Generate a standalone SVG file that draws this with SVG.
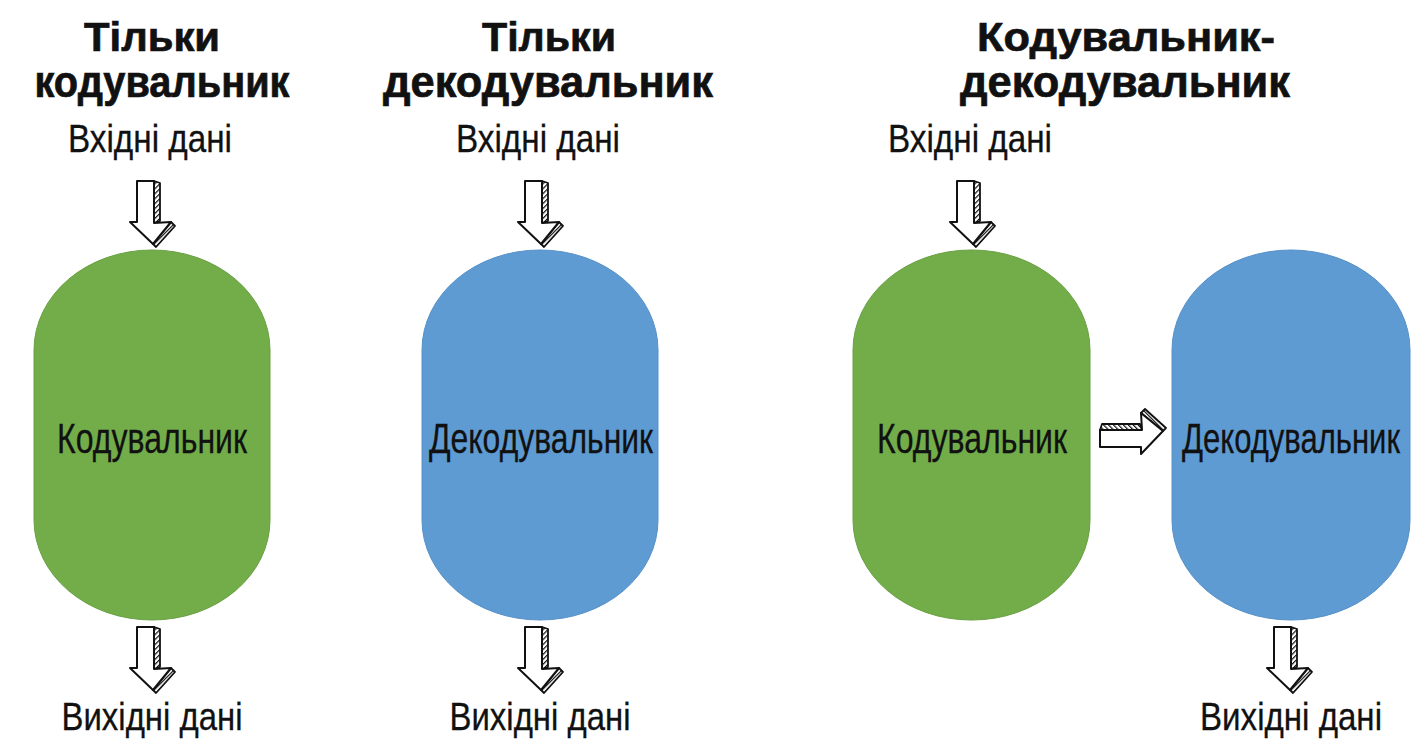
<svg xmlns="http://www.w3.org/2000/svg" width="1423" height="752" viewBox="0 0 1423 752">
<style>
.title{font-family:"Liberation Sans",Arial,sans-serif;font-weight:bold;font-size:41px;fill:#111;stroke:#111;stroke-width:0.7;text-anchor:middle}
.title2{font-size:44px}
.lbl{font-family:"Liberation Sans",Arial,sans-serif;font-size:39px;fill:#111;stroke:#111;stroke-width:0.3;text-anchor:middle}
.node-lbl{font-family:"Liberation Sans",Arial,sans-serif;font-size:42px;fill:#111;stroke:#111;stroke-width:0.3;text-anchor:middle}
.green{fill:#72AD4A;stroke:#68A042;stroke-width:1}
.blue{fill:#5E9BD3;stroke:#5690C8;stroke-width:1}
.af{fill:#fff;stroke:#111;stroke-width:2;stroke-linejoin:round}
.as{fill:url(#hatch);stroke:#111;stroke-width:1.8;stroke-linejoin:round}
</style>
<defs>
<pattern id="hatch" width="3.5" height="3.5" patternUnits="userSpaceOnUse" patternTransform="rotate(45)">
<rect width="3.5" height="3.5" fill="#fff"/>
<line x1="0" y1="0" x2="0" y2="3.5" stroke="#111" stroke-width="2.4"/>
</pattern>
<g id="darrow">
<path class="as" d="M17,0 L23,2 L23,40 L17,42 Z"/>
<path class="as" d="M34,41 L38,45 L19,66 L16,63 Z"/>
<path class="af" d="M0,0 L17,0 L17,42 L34,41 L16,63 L-7,41 L0,41 Z"/>
</g>
</defs>
<rect width="1423" height="752" fill="#fff"/>

<g id="title-encoder">
<text class="title" x="152" y="51" textLength="136" lengthAdjust="spacingAndGlyphs">Тільки</text>
<text class="title title2" x="162" y="97" textLength="255" lengthAdjust="spacingAndGlyphs">кодувальник</text>
</g>
<g id="title-decoder">
<text class="title" x="549" y="51" textLength="134" lengthAdjust="spacingAndGlyphs">Тільки</text>
<text class="title title2" x="548" y="97" textLength="330" lengthAdjust="spacingAndGlyphs">декодувальник</text>
</g>
<g id="title-encdec">
<text class="title" x="1126" y="51" textLength="298" lengthAdjust="spacingAndGlyphs">Кодувальник-</text>
<text class="title title2" x="1125" y="97" textLength="330" lengthAdjust="spacingAndGlyphs">декодувальник</text>
</g>

<g id="input1"><text class="lbl" x="150" y="152" textLength="164" lengthAdjust="spacingAndGlyphs">Вхідні дані</text></g>
<g id="input2"><text class="lbl" x="538" y="152" textLength="164" lengthAdjust="spacingAndGlyphs">Вхідні дані</text></g>
<g id="input3"><text class="lbl" x="970" y="152" textLength="164" lengthAdjust="spacingAndGlyphs">Вхідні дані</text></g>

<g id="encoder1">
<rect class="green" x="34" y="250" width="236" height="370" rx="118" ry="100"/>
<text class="node-lbl" x="152" y="453" textLength="190" lengthAdjust="spacingAndGlyphs">Кодувальник</text>
</g>
<g id="decoder1">
<rect class="blue" x="422" y="250" width="236" height="370" rx="118" ry="100"/>
<text class="node-lbl" x="541" y="453" textLength="224" lengthAdjust="spacingAndGlyphs">Декодувальник</text>
</g>
<g id="encoder2">
<rect class="green" x="853" y="250" width="237" height="370" rx="118" ry="100"/>
<text class="node-lbl" x="972" y="453" textLength="190" lengthAdjust="spacingAndGlyphs">Кодувальник</text>
</g>
<g id="decoder2">
<rect class="blue" x="1172" y="250" width="238" height="370" rx="119" ry="100"/>
<text class="node-lbl" x="1291" y="453" textLength="218" lengthAdjust="spacingAndGlyphs">Декодувальник</text>
</g>

<g id="output1"><text class="lbl" x="152" y="730" textLength="181" lengthAdjust="spacingAndGlyphs">Вихідні дані</text></g>
<g id="output2"><text class="lbl" x="540" y="730" textLength="181" lengthAdjust="spacingAndGlyphs">Вихідні дані</text></g>
<g id="output3"><text class="lbl" x="1291" y="730" textLength="182" lengthAdjust="spacingAndGlyphs">Вихідні дані</text></g>

<g id="connectors">
<use href="#darrow" transform="translate(137,181)"/>
<use href="#darrow" transform="translate(525,181)"/>
<use href="#darrow" transform="translate(957,181)"/>
<use href="#darrow" transform="translate(137,627)"/>
<use href="#darrow" transform="translate(525,627)"/>
<use href="#darrow" transform="translate(1274,627)"/>
<use href="#darrow" transform="translate(1100,447) rotate(-90)"/>
</g>
</svg>
